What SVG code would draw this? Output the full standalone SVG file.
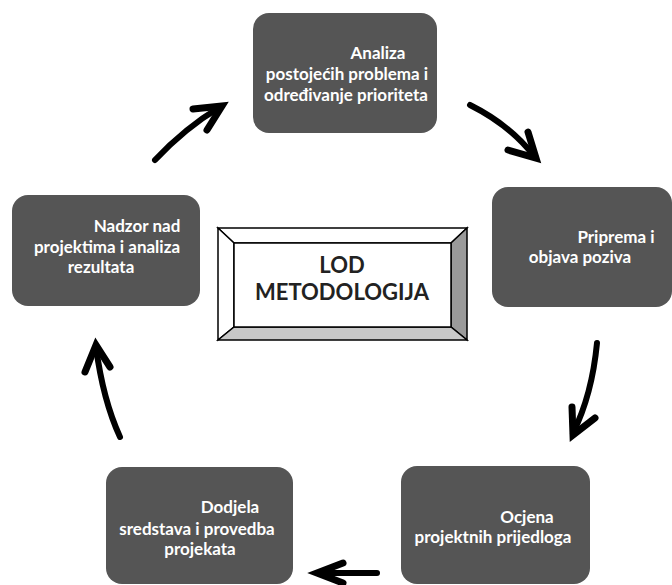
<svg xmlns="http://www.w3.org/2000/svg" width="672" height="585" viewBox="0 0 672 585">
<style>
.box{fill:#555555;}
.t{font-family:Lato,"Liberation Sans",sans-serif;font-weight:bold;font-size:17px;fill:#ffffff;text-anchor:middle;}
.c{font-family:Lato,"Liberation Sans",sans-serif;font-weight:bold;font-size:22px;fill:#222222;text-anchor:middle;}
.a{fill:none;stroke:#000;stroke-width:6;stroke-linecap:round;stroke-linejoin:round;}
.h{fill:none;stroke:#000;stroke-width:7;stroke-linecap:round;stroke-linejoin:miter;}
.bv{stroke:#000;stroke-width:1.5;stroke-linejoin:miter;}
</style>
<rect width="672" height="585" fill="#ffffff"/>
<g id="n1">
<rect class="box" x="253" y="13" width="184" height="120" rx="16"/>
<text class="t" x="378" y="59">Analiza</text>
<text class="t" x="347" y="80">postojećih problema i</text>
<text class="t" x="346" y="101">određivanje prioriteta</text>
</g>
<g id="n2">
<rect class="box" x="492" y="187" width="180" height="120" rx="16"/>
<text class="t" x="616" y="243">Priprema i</text>
<text class="t" x="580" y="263">objava poziva</text>
</g>
<g id="n3">
<rect class="box" x="401" y="466" width="189" height="118" rx="16"/>
<text class="t" x="527" y="523">Ocjena</text>
<text class="t" x="493" y="543">projektnih prijedloga</text>
</g>
<g id="n4">
<rect class="box" x="106" y="467" width="187" height="117" rx="16"/>
<text class="t" x="230" y="513">Dodjela</text>
<text class="t" x="197" y="535">sredstava i provedba</text>
<text class="t" x="200" y="555">projekata</text>
</g>
<g id="n5">
<rect class="box" x="12" y="195" width="188" height="111" rx="16"/>
<text class="t" x="137" y="232">Nadzor nad</text>
<text class="t" x="107" y="253">projektima i analiza</text>
<text class="t" x="101" y="273">rezultata</text>
</g>
<g id="center">
<polygon class="bv" points="218,228 467,228 451,243 234,243" fill="#ffffff"/>
<polygon class="bv" points="218,228 234,243 234,327 218,340" fill="#ffffff"/>
<polygon class="bv" points="467,228 467,340 451,327 451,243" fill="#9a9a9a"/>
<polygon class="bv" points="218,340 234,327 451,327 467,340" fill="#c8c8c8"/>
<rect class="bv" x="234" y="243" width="217" height="84" fill="#ffffff"/>
<text class="c" x="342" y="273">LOD</text>
<text class="c" x="342" y="300">METODOLOGIJA</text>
</g>
<g id="connectors">
<path class="a" d="M155,160 Q185,128 220,107"/>
<path class="h" d="M193,109 L222,106 L207,130"/>
<path class="a" d="M470,105 Q510,125 534,156"/>
<path class="h" d="M508,150 L536,158 L528,132"/>
<path class="a" d="M597,343 Q592,395 573,433"/>
<path class="h" d="M572,407 L573,435 L595,418"/>
<path class="a" d="M377,573 L319,573"/>
<path class="h" d="M343,563 L317,573 L343,583"/>
<path class="a" d="M120,437 Q103,400 96,347"/>
<path class="h" d="M85,372 L96,345 L110,367"/>
</g>
</svg>
